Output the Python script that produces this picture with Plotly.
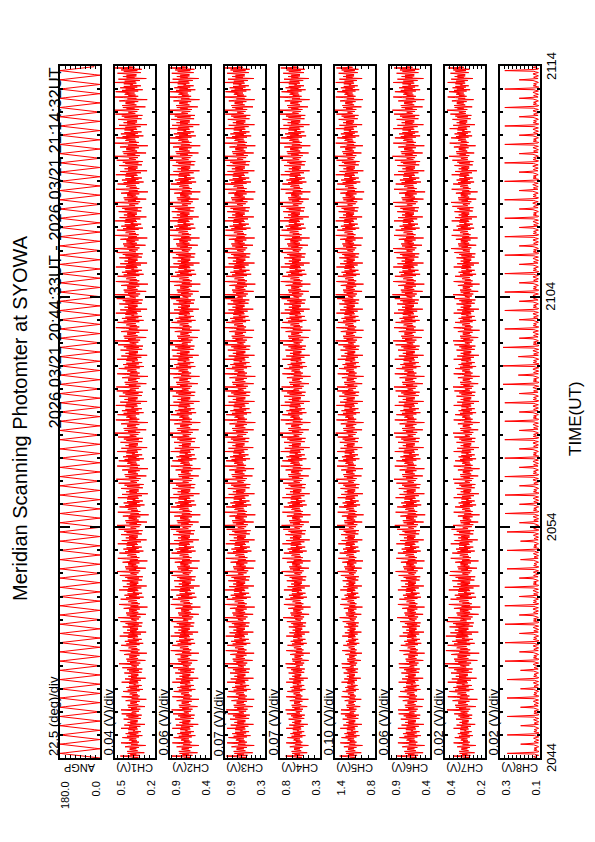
import plotly.graph_objects as go

W, H = 595, 842

# panel labels / scales
CHANNELS = ["ANGP", "CH1(V)", "CH2(V)", "CH3(V)", "CH4(V)", "CH5(V)", "CH6(V)", "CH7(V)", "CH8(V)"]
SCALE_TEXT = ["22.5 (deg)/div", "0.04 (V)/div", "0.06 (V)/div", "0.07 (V)/div", "0.07 (V)/div",
              "0.10 (V)/div", "0.06 (V)/div", "0.02 (V)/div", "0.02 (V)/div"]
VMAX = [180.0, 0.5, 0.9, 0.9, 0.8, 1.4, 0.9, 0.4, 0.3]
VMIN = [0.0, 0.2, 0.4, 0.3, 0.3, 0.8, 0.4, 0.2, 0.1]
VDIV = [22.5, 0.04, 0.06, 0.07, 0.07, 0.10, 0.06, 0.02, 0.02]
MAX_LABEL = ["180.0", "0.5", "0.9", "0.9", "0.8", "1.4", "0.9", "0.4", "0.3"]
MIN_LABEL = ["0.0", "0.2", "0.4", "0.3", "0.3", "0.8", "0.4", "0.2", "0.1"]
TIME_LABELS = ["2044", "2054", "2104", "2114"]
TIME_POS = [0, 10, 20, 30]  # minutes after 20:44

# one scan of the photometer (24 s, 14 samples), 75 scans in the 30 minutes
N_SCANS = 75
ANGP_SCAN = [0, 26, 51, 77, 103, 129, 154, 180, 154, 129, 103, 77, 51, 26]

# intensity shape seen during a scan (normalised), CH1..CH7
SCAN_SHAPES = [
    [0.15, -0.35, 0.40, 1.00, -0.45, 0.25, -0.20, 0.45, -0.80, 0.20, 0.50, -0.30, 0.10, 0.30],
    [-0.20, 0.30, -0.40, 0.65, 0.30, -0.90, 0.20, -0.30, 0.40, 0.95, -0.40, 0.15, -0.25, 0.35],
    [0.30, -0.20, 0.25, 0.85, -0.40, 0.50, -0.65, 0.30, -0.20, 0.60, -0.35, 0.40, -0.55, 0.05],
    [-0.10, 0.40, -0.30, 0.95, -0.25, 0.35, -0.50, 0.20, 0.70, -0.85, 0.25, -0.20, 0.45, -0.30],
    [0.25, -0.30, 0.35, 0.75, -0.55, 0.10, 0.40, -0.35, 0.55, -0.60, 0.30, 0.90, -0.20, 0.15],
]
# CH8: wavy baseline with one spike per scan, long and short in turn
CH8_SCAN_LONG = [0.00, 0.07, 0.12, 0.05, -0.05, 0.03, 0.09, 1.00, 0.08, -0.02, -0.06, 0.05, 0.11, 0.02]
CH8_SCAN_SHORT = [0.02, 0.10, 0.05, -0.05, -0.01, 0.06, 0.12, 0.55, 0.06, -0.04, 0.04, 0.10, 0.03, -0.05]

# levels read every 2 minutes (20:44 -> 21:14)
CH1_MID = [0.36, 0.355, 0.36, 0.36, 0.365, 0.36, 0.365, 0.37, 0.365, 0.37, 0.37, 0.375, 0.37, 0.375, 0.38, 0.38]
CH1_AMP = [0.10, 0.10, 0.11, 0.115, 0.12, 0.125, 0.125, 0.13, 0.125, 0.13, 0.13, 0.13, 0.13, 0.135, 0.135, 0.135]
CH2_MID = [0.70, 0.70, 0.71, 0.70, 0.71, 0.71, 0.70, 0.71, 0.72, 0.71, 0.71, 0.72, 0.71, 0.72, 0.72, 0.72]
CH2_AMP = [0.18, 0.18, 0.19, 0.20, 0.20, 0.21, 0.20, 0.21, 0.21, 0.20, 0.21, 0.21, 0.21, 0.22, 0.21, 0.21]
CH3_MID = [0.66, 0.66, 0.67, 0.67, 0.66, 0.67, 0.68, 0.67, 0.67, 0.68, 0.67, 0.68, 0.68, 0.67, 0.68, 0.68]
CH3_AMP = [0.22, 0.22, 0.23, 0.24, 0.24, 0.25, 0.24, 0.25, 0.25, 0.24, 0.25, 0.25, 0.26, 0.25, 0.25, 0.25]
CH4_MID = [0.58, 0.58, 0.57, 0.58, 0.59, 0.59, 0.60, 0.60, 0.59, 0.60, 0.60, 0.61, 0.60, 0.61, 0.61, 0.61]
CH4_AMP = [0.15, 0.15, 0.16, 0.18, 0.19, 0.19, 0.20, 0.20, 0.19, 0.20, 0.20, 0.20, 0.20, 0.21, 0.20, 0.20]
CH5_MID = [1.15, 1.15, 1.14, 1.15, 1.16, 1.16, 1.17, 1.17, 1.16, 1.17, 1.17, 1.18, 1.17, 1.18, 1.18, 1.18]
CH5_AMP = [0.18, 0.16, 0.16, 0.18, 0.20, 0.21, 0.21, 0.22, 0.21, 0.22, 0.22, 0.22, 0.23, 0.22, 0.22, 0.22]
CH6_MID = [0.63, 0.63, 0.62, 0.63, 0.64, 0.64, 0.65, 0.65, 0.65, 0.66, 0.66, 0.66, 0.65, 0.66, 0.66, 0.66]
CH6_AMP = [0.18, 0.17, 0.17, 0.18, 0.19, 0.20, 0.20, 0.20, 0.20, 0.20, 0.21, 0.20, 0.21, 0.21, 0.21, 0.21]
CH7_MID = [0.30, 0.31, 0.31, 0.30, 0.30, 0.29, 0.29, 0.29, 0.29, 0.29, 0.29, 0.30, 0.30, 0.31, 0.32, 0.32]
CH7_AMP = [0.06, 0.08, 0.09, 0.085, 0.075, 0.07, 0.07, 0.07, 0.07, 0.07, 0.07, 0.07, 0.07, 0.07, 0.07, 0.07]
CH8_BASE = [0.114, 0.115, 0.115, 0.116, 0.115, 0.115, 0.116, 0.116, 0.115, 0.116, 0.116, 0.116, 0.117, 0.116, 0.116, 0.116]
CH8_PEAK = [0.15, 0.15, 0.16, 0.16, 0.15, 0.16, 0.16, 0.16, 0.17, 0.16, 0.16, 0.16, 0.16, 0.16, 0.16, 0.16]

MIDS = [CH1_MID, CH2_MID, CH3_MID, CH4_MID, CH5_MID, CH6_MID, CH7_MID]
AMPS = [CH1_AMP, CH2_AMP, CH3_AMP, CH4_AMP, CH5_AMP, CH6_AMP, CH7_AMP]

n_per = len(ANGP_SCAN)
times, angp = [], []
ch = [[] for _ in range(8)]
for s in range(N_SCANS):
    shape = SCAN_SHAPES[s % len(SCAN_SHAPES)]
    shape8 = CH8_SCAN_LONG if s % 2 == 0 else CH8_SCAN_SHORT
    for k in range(n_per):
        t = (s * n_per + k) * 30.0 / (N_SCANS * n_per)
        g = min(int(t // 2), 15)
        times.append(t)
        angp.append(ANGP_SCAN[k])
        for c in range(7):
            ch[c].append(MIDS[c][g] + AMPS[c][g] * shape[k])
        ch[7].append(CH8_BASE[g] + CH8_PEAK[g] * shape8[k])

series = [angp] + ch

# page layout (pixels, portrait page with the plot turned on its side)
TOP, BOTTOM = 66, 758
LEFT0, PW, PITCH = 60, 40, 55

fig = go.Figure()
layout = dict(
    width=W, height=H, autosize=False,
    margin=dict(l=0, r=0, t=0, b=0),
    paper_bgcolor="white", plot_bgcolor="white",
    showlegend=False,
    font=dict(family="Liberation Sans, Arial, sans-serif", color="black"),
)
annotations = []

for i in range(9):
    left = LEFT0 + PITCH * i
    right = left + PW
    n = "" if i == 0 else str(i + 1)
    fig.add_trace(go.Scatter(
        x=series[i], y=times, mode="lines",
        line=dict(color="#ff0000", width=1),
        xaxis="x" + n, yaxis="y" + n, hoverinfo="skip",
    ))
    layout["xaxis" + n] = dict(
        domain=[left / W, right / W], anchor="y" + n,
        range=[VMAX[i], VMIN[i]], tick0=VMIN[i], dtick=VDIV[i],
        ticks="inside", ticklen=3, tickwidth=1, tickcolor="black",
        showticklabels=False, showgrid=False, zeroline=False,
        showline=True, linewidth=2, linecolor="black", mirror="ticks",
    )
    layout["yaxis" + n] = dict(
        domain=[1 - BOTTOM / H, 1 - TOP / H], anchor="x" + n,
        range=[0, 30], tick0=0, dtick=10,
        ticks="inside", ticklen=10, tickwidth=1.5, tickcolor="black",
        minor=dict(dtick=1, ticks="inside", ticklen=3, tickwidth=1.5, tickcolor="black"),
        showticklabels=False, showgrid=False, zeroline=False,
        showline=True, linewidth=2, linecolor="black", mirror="ticks",
    )
    # scale text left of each panel
    annotations.append(dict(
        text=SCALE_TEXT[i], x=(left - 7) / W, y=1 - BOTTOM / H,
        xanchor="center", yanchor="bottom", textangle=-90,
        font=dict(size=13),
    ))
    # value labels below panel
    annotations.append(dict(
        text=MAX_LABEL[i], x=(left + 5) / W, y=1 - 779 / H,
        xanchor="center", yanchor="top", textangle=-90, font=dict(size=11),
    ))
    annotations.append(dict(
        text=MIN_LABEL[i], x=(right - 5) / W, y=1 - 779 / H,
        xanchor="center", yanchor="top", textangle=-90, font=dict(size=11),
    ))
    annotations.append(dict(
        text=CHANNELS[i], x=(left + right) / 2 / W, y=1 - 768 / H,
        xanchor="center", yanchor="middle", textangle=180, font=dict(size=11),
    ))

span = BOTTOM - TOP
for lab, pos in zip(TIME_LABELS, TIME_POS):
    annotations.append(dict(
        text=lab, x=551 / W, y=1 - (BOTTOM - span * pos / 30) / H,
        xanchor="center", yanchor="middle", textangle=-90, font=dict(size=13),
    ))

annotations.append(dict(
    text="TIME(UT)", x=575 / W, y=1 - 419 / H,
    xanchor="center", yanchor="middle", textangle=-90, font=dict(size=17),
))
annotations.append(dict(
    text="Meridian Scanning Photomter at SYOWA", x=20 / W, y=1 - 418 / H,
    xanchor="center", yanchor="middle", textangle=-90, font=dict(size=20),
))
annotations.append(dict(
    text="2026 03/21 20:44:33UT - 2026 03/21 21:14:32UT", x=54 / W, y=1 - TOP / H,
    xanchor="center", yanchor="top", textangle=-90, font=dict(size=16.5),
))

for a in annotations:
    a.update(xref="paper", yref="paper", showarrow=False)
layout["annotations"] = annotations
fig.update_layout(**layout)

# the default page has an 8px body margin; drop it so the page matches pixel for pixel
fig.write_html(
    "out.html",
    config={"displayModeBar": False},
    post_script="document.body.style.margin='0';document.body.style.overflow='hidden';",
)
